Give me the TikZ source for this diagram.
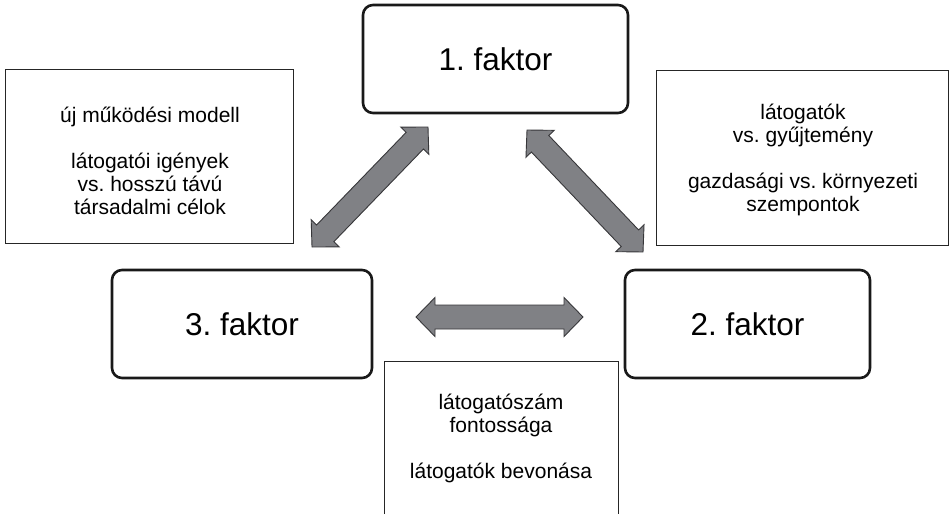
\documentclass[tikz,border=0pt]{standalone}
\usepackage{fontspec}
\setmainfont{Liberation Sans}
\usetikzlibrary{calc}
\definecolor{arrfill}{RGB}{128,129,133}
\definecolor{arrline}{RGB}{55,55,58}
\definecolor{boxline}{RGB}{25,25,25}
\newcommand\dblarr[2]{%
  \draw[bigarrow] (#1)
    -- ($(#1)!19pt!(#2)!19.5pt!90:(#2)$)
    -- ($(#1)!19pt!(#2)!12pt!90:(#2)$)
    -- ($(#2)!19pt!(#1)!12pt!-90:(#1)$)
    -- ($(#2)!19pt!(#1)!19.5pt!-90:(#1)$)
    -- (#2)
    -- ($(#2)!19pt!(#1)!19.5pt!90:(#1)$)
    -- ($(#2)!19pt!(#1)!12pt!90:(#1)$)
    -- ($(#1)!19pt!(#2)!12pt!-90:(#2)$)
    -- ($(#1)!19pt!(#2)!19.5pt!-90:(#2)$)
    -- cycle;}
\begin{document}
\frenchspacing
\begin{tikzpicture}[x=1pt,y=-1pt,
  factor/.style={draw=boxline, line width=2.6pt, rounded corners=10pt,
    font=\fontsize{31.5}{36}\selectfont, inner sep=0pt},
  note/.style={align=center, font=\fontsize{21}{23}\selectfont, inner sep=0pt},
  notebox/.style={draw=black!85, line width=1pt},
  bigarrow/.style={draw=arrline, fill=arrfill, line width=0.9pt, line join=miter}]
\useasboundingbox (0,0) rectangle (949,514);

% factor boxes
\node[factor, minimum width=265pt, minimum height=108pt] (f1) at (495.5,59) {1. faktor};
\node[factor, minimum width=260pt, minimum height=108pt] (f3) at (242,324) {3. faktor};
\node[factor, minimum width=245pt, minimum height=108pt] (f2) at (747.5,324) {2. faktor};

% note boxes
\draw[notebox] (5,69) rectangle (293,243);
\node[note] (nl) at (150,161) {új működési modell\\[23pt]látogatói igények\\vs. hosszú távú\\társadalmi célok};
\draw[notebox] (656,70) rectangle (948,245);
\node[note] (nr) at (803,160) {látogatók\\vs. gyűjtemény\\[23pt]gazdasági vs. környezeti\\szempontok};
\draw[notebox] (384,514) -- (384,361) -- (618,361) -- (618,514);
\node[note] (nb) at (501,438.5) {látogatószám\\fontossága\\[23pt]látogatók bevonása};

% arrows
\coordinate (a1s) at (312,247);
\coordinate (a1e) at (428,127);
\coordinate (a2s) at (527,130);
\coordinate (a2e) at (643,252);
\coordinate (a3s) at (416,317);
\coordinate (a3e) at (583,317);
\dblarr{a1s}{a1e}
\dblarr{a2s}{a2e}
\dblarr{a3s}{a3e}
\end{tikzpicture}
\end{document}
